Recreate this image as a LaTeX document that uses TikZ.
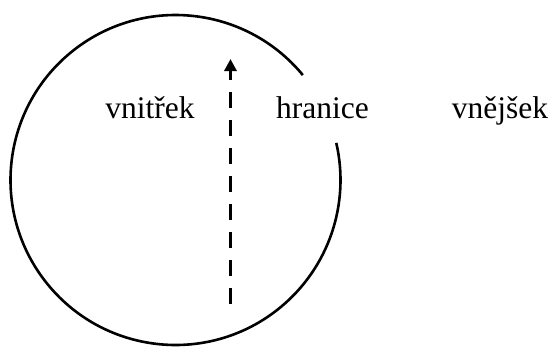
\documentclass[tikz,border=0pt]{standalone}
\usepackage{fontspec}
\newfontfamily\patkovy{Liberation Serif}
\usetikzlibrary{arrows.meta}

\tikzset{
    popis/.style={anchor=base, inner sep=0pt, font=\patkovy\fontsize{31.5}{38}\selectfont},
    hrana/.style={line width=2.6pt},
    cesta/.style={line width=3pt, dash pattern=on 16pt off 12pt, -{Triangle[width=12pt,length=12pt]}}
}

\begin{document}
\begin{tikzpicture}[x=1pt, y=-1pt]
    \useasboundingbox (0,0) rectangle (552,346);
    % hranice oblasti
    \draw[hrana] (175.5,180) ++(-39.5:165) arc[start angle=-39.5, end angle=-373, radius=165];
    % popisky
    \node[popis] (vnitrek) at (150,118) {vnitřek};
    \node[popis] (hranice) at (322.5,118) {hranice};
    \node[popis] (vnejsek) at (500,118) {vnějšek};
    % cesta zevnitř ven
    \coordinate (start) at (230.5,304);
    \coordinate (cil) at (230.5,59);
    \draw[cesta] (start) -- (cil);
\end{tikzpicture}
\end{document}
